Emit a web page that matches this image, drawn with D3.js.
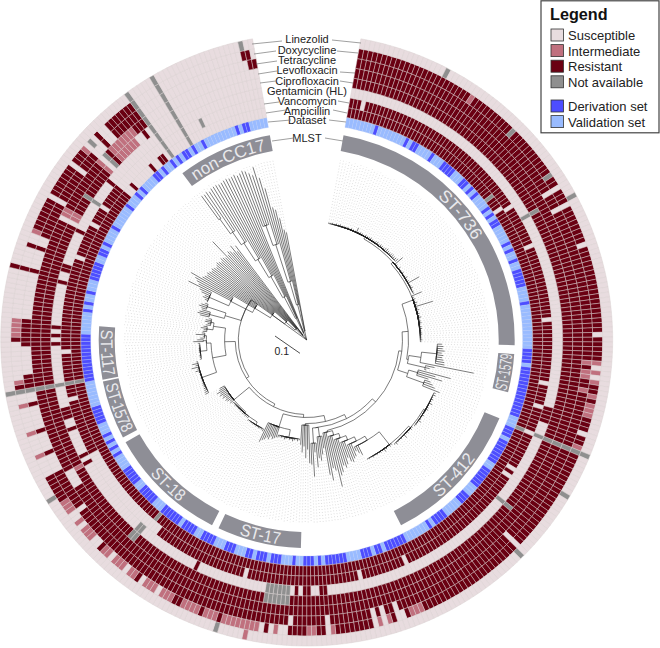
<!DOCTYPE html>
<html>
  <head>
    <meta charset="utf-8">
    <title>Enterococcus faecium phylogeny and resistance</title>
    <script src="https://d3js.org/d3.v7.min.js"></script>
    <style>
      body { margin: 0; background: #fff; }
      text { font-family: "Liberation Sans", Arial, sans-serif; }
    </style>
  </head>

  <body>
    <svg id="chart" width="660" height="648"></svg>

    <script>
      // ---- data. tips are numbered clockwise from the top gap ----
      const tipCount = 360;
      const ringNames = ["Dataset", "Ampicillin", "Vancomycin", "Gentamicin (HL)", "Ciprofloxacin",
        "Levofloxacin", "Tetracycline", "Doxycycline", "Linezolid"];

      // [first tip, last tip, state]; later runs overwrite earlier ones
      const ampicillinRuns = [[0,316,"R"],[44,44,"N"],[48,48,"S"],[108,108,"N"],[222,222,"N"],[264,264,"N"],
        [317,318,"S"],[319,319,"R"],[320,325,"S"],[326,326,"R"],[327,328,"S"],[329,330,"R"],[331,359,"S"],
        [332,332,"N"],[338,338,"N"]];
      const vancomycinRuns = [[0,316,"R"],[3,3,"S"],[49,49,"S"],[60,60,"S"],[79,79,"S"],[95,95,"S"],[101,101,"S"],
        [108,108,"S"],[118,118,"S"],[120,120,"S"],[154,154,"S"],[166,166,"S"],[195,195,"S"],[220,245,"S"],
        [260,260,"S"],[264,264,"N"],[272,272,"S"],[296,296,"S"],[305,305,"S"],[310,310,"S"],[317,359,"S"],
        [332,332,"N"],[338,338,"N"],[343,343,"N"]];
      const gentamicinRuns = [[0,359,"S"],[53,53,"N"],[101,104,"R"],[108,108,"N"],[126,126,"N"],[175,176,"R"],
        [179,180,"R"],[182,182,"R"],[184,189,"N"],[207,207,"R"],[223,224,"N"],[244,244,"R"],[246,246,"R"],
        [253,253,"R"],[256,258,"R"],[264,264,"N"],[274,274,"R"],[276,276,"R"],[278,278,"R"],[289,289,"R"],
        [292,293,"R"],[302,302,"R"],[310,310,"N"],[316,316,"R"],[332,332,"N"],[338,338,"N"]];
      const ciprofloxacinRuns = [[0,317,"R"],[53,53,"N"],[108,108,"N"],[126,126,"N"],[184,189,"N"],[223,224,"N"],
        [244,244,"I"],[264,264,"N"],[303,303,"S"],[304,305,"I"],[310,310,"N"],[318,318,"I"],[319,319,"S"],
        [320,320,"N"],[321,321,"R"],[322,327,"I"],[328,329,"S"],[330,330,"R"],[331,359,"S"],[332,332,"N"],[338,338,"N"]];
      const levofloxacinRuns = [[0,317,"R"],[108,108,"N"],[241,244,"S"],[264,264,"N"],[303,303,"S"],[304,305,"I"],
        [318,318,"I"],[319,319,"S"],[320,320,"N"],[321,321,"R"],[322,328,"I"],[329,331,"R"],[332,359,"S"],
        [332,332,"N"],[338,338,"N"]];
      const tetracyclineRuns = [[0,50,"R"],[51,51,"S"],[52,54,"R"],[55,55,"S"],[56,107,"R"],[89,89,"I"],[91,92,"I"],
        [95,95,"I"],[108,108,"N"],[109,130,"R"],[131,131,"S"],[132,159,"R"],[160,160,"S"],[161,162,"R"],[163,163,"S"],
        [164,164,"R"],[165,165,"S"],[166,174,"R"],[175,175,"S"],[176,182,"R"],[183,183,"S"],[184,235,"R"],[236,236,"S"],
        [237,245,"R"],[246,263,"S"],[250,250,"R"],[255,255,"R"],[261,261,"R"],[264,264,"N"],[265,267,"R"],[268,273,"S"],
        [274,279,"R"],[280,289,"S"],[290,290,"R"],[291,294,"S"],[295,295,"R"],[296,297,"S"],[298,305,"R"],[306,306,"S"],
        [307,313,"R"],[314,314,"S"],[315,318,"R"],[319,321,"S"],[322,322,"R"],[323,324,"S"],[325,331,"R"],[332,357,"S"],
        [332,332,"N"],[338,338,"N"],[358,359,"R"]];
      const doxycyclineRuns = [[0,24,"R"],[25,25,"I"],[26,35,"R"],[36,36,"N"],[37,47,"R"],[48,48,"N"],[49,50,"R"],
        [51,51,"S"],[52,54,"R"],[55,55,"S"],[56,63,"R"],[64,64,"S"],[65,82,"R"],[83,83,"S"],[84,88,"R"],[89,89,"I"],
        [90,90,"S"],[91,91,"I"],[92,92,"S"],[93,93,"I"],[94,95,"R"],[96,96,"I"],[97,97,"R"],[98,100,"I"],[101,103,"R"],
        [104,104,"S"],[105,106,"R"],[107,107,"I"],[108,108,"N"],[109,130,"R"],[131,131,"S"],[132,154,"R"],[155,157,"I"],
        [158,158,"R"],[159,160,"S"],[161,161,"R"],[162,162,"I"],[163,163,"S"],[164,164,"I"],[165,165,"S"],[166,173,"R"],
        [174,174,"I"],[175,175,"S"],[176,177,"R"],[178,179,"I"],[180,183,"R"],[184,185,"S"],[186,186,"I"],[187,187,"S"],
        [188,188,"R"],[189,189,"S"],[190,197,"I"],[198,198,"R"],[199,201,"I"],[202,202,"R"],[203,203,"I"],[204,206,"I"],
        [207,208,"R"],[209,211,"I"],[212,212,"S"],[213,215,"I"],[216,216,"S"],[217,217,"R"],[218,219,"I"],[220,220,"S"],
        [221,223,"I"],[224,224,"S"],[225,226,"I"],[227,227,"R"],[228,229,"S"],[230,232,"I"],[233,233,"S"],[234,234,"I"],
        [235,236,"S"],[237,239,"I"],[240,245,"R"],[246,249,"S"],[250,250,"I"],[251,254,"S"],[255,255,"I"],[256,260,"S"],
        [261,261,"I"],[262,263,"S"],[264,264,"N"],[265,265,"R"],[266,266,"I"],[267,274,"S"],[275,275,"R"],[276,279,"I"],
        [280,289,"S"],[290,290,"R"],[291,294,"S"],[295,295,"R"],[296,297,"S"],[298,298,"I"],[299,305,"R"],[306,306,"S"],
        [307,313,"R"],[314,314,"S"],[315,317,"R"],[318,318,"I"],[319,319,"S"],[320,320,"N"],[321,321,"S"],[322,322,"R"],
        [323,324,"S"],[325,331,"R"],[332,356,"S"],[332,332,"N"],[338,338,"N"],[357,358,"R"],[359,359,"S"]];
      const linezolidRuns = [[0,359,"S"],[18,18,"N"],[54,54,"N"],[108,108,"N"],[117,117,"N"],[132,132,"N"],
        [192,192,"I"],[198,198,"N"],[241,241,"N"],[264,264,"N"],[290,290,"R"],[332,332,"N"],[338,338,"N"],[357,357,"N"]];

      // dataset ring: runs of derivation-set tips, everything else is validation set
      const derivationRuns = [[8,8],[17,17],[19,20],[25,25],[29,32],[36,37],[39,39],[41,41],[46,46],[48,48],[50,51],
        [57,57],[59,59],[62,62],[65,69],[74,74],[87,90],[92,105],[109,111],[113,119],[122,127],[131,133],[139,142],
        [144,144],[152,157],[159,160],[162,164],[169,174],[176,176],[178,180],[183,183],[187,189],[191,193],[195,196],
        [200,202],[206,209],[212,215],[217,222],[226,230],[233,237],[242,242],[244,244],[246,246],[248,248],[252,256],
        [264,276],[283,283],[285,285],[288,288],[292,296],[299,300],[302,302],[307,307],[314,314],[318,318],[320,320],
        [325,326],[328,328],[331,331],[333,333],[335,336],[338,338],[341,341],[351,351],[353,354]];

      // MLST blocks, in tip units along the ring
      const mlstNames = ["ST-736", "ST-1579", "ST-412", "ST-17", "ST-18", "ST-1578", "ST-117", "non-CC17"];
      const mlstStart = [0, 88.7, 108, 181.7, 208.7, 245.8, 263.7, 331.9];
      const mlstEnd = [86.1, 100, 151.4, 206.6, 244.2, 263.2, 279.4, 360];
      const mlstClockwise = [true, false, false, false, false, false, false, true];
      const mlstTextLength = [57, 37.6, 54, 42, 41, 52, 47, 77];

      const stateNames = ["Susceptible", "Intermediate", "Resistant", "Not available"];
      const stateCodes = ["S", "I", "R", "N"];
      const setNames = ["Derivation set", "Validation set"];

      // tree: [divergence of node, ...children], a bare number is a tip. unit is 0.01 subs/site
      const st736A = [39.3,39.2,39.4,39.1,39.5,39.3,39.6,39.2,39.4,39.3,39.5,39.2,39.6,39.4,39.3,40.6,39.4,39.6,39.5,39.3,
        39.7,39.5,39.6,39.8,39.5,39.4,39.7,39.9,39.6,39.8,39.7,39.6,39.9,40.2,39.8,39.7,39.9,40,39.8,39.9,40.1];
      const st736B = [41.6,38.7,38.4,39,38.3,38.6,38.9,38.4,38.6,39.1,38.5,38.8,42.4,38.4,38.7,39,38.3,38.6,38.5];
      const st736C = [41,37.9,38.2,37.8,38.4,38,43.4,37.9,38.3,37.7,38.1,37.9,38.4,37.8,38,38.2,37.7,38,38.1,37.7,
        37.9,38,37.7,37.8,38,37.7];
      const st412A = [45.9,46.2,45.6,46,45.7,46.4,45.5,45.8,46.1,45.6,45.5,45.9,45.5,45.7,46.3,45.5,45.6,45.4];
      const st412B = [45.1,45.4,45,45.3,45,46,44.9,45.1,44.9,45,45.5,44.9];
      const st412C = [44.4,44.6,44.2,44.5,45,44.2,44.4,44.1,44.3,44,44.4,44,44.2,44];
      const st17Band = [33,33.4,32.9,33.2,33.6,33,33.3,32.8,33.1,33.5,32.9,33.2,33,33.4];
      const st17Comb = [33.5,34,34.5,33.8,35,34.6,35.5,36,36.9];
      const st18A = [33.3,33,32.9,33.1,32.8,33,32.7,32.9,32.7,32.8,32.6,32.8];
      const st18B = [32.2,32.1,32.3,32,32.2,31.9,32.1,31.9,32,31.8,31.9,32.1,31.8,32];
      const st18C = [32.6,32.2,32.9,33.3,32.7,33.6,33.1,34,33.4,34.4,33.2,32.8];
      const st1578Tips = [37.8,37.7,37.5,37.4,37.2,37.3,37.1,37,36.9,37,36.8,36.9,37,38,37.2,39,37.5,38.5,37];
      const st117Tips = [35.6,35.5,35.7,35.4,35.6,35.5,35.6,35.4,35.5,35.7];

      const cladeST736 = [36, [37.4, [38.2, [39, ...st736A], ...st736B], ...st736C]];
      const clade1579A = [34, [38, [43, 44.5,45,44.8,45.5,44.6,45.2,44.9,45.4,45.8,46], 56], [40, 43,41.5,40.5]];
      const clade1579B = [35, [38, 49,44,46.5,42], [41, 43,44,45,47]];
      const cladeST412 = [41, [43.9, [44.7, [45.3, ...st412A], ...st412B], ...st412C]];
      // ladder of small clades with ST-412 at its top end
      const ladder412 = [31, [32.5, [34, [35.5, [37, [38.5, cladeST412, 42,41,40], 41.5,42,43], 42.5,41,43],
        44,43,45], 46,49.6,44], 43,47,45];
      const combs170 = [29, [32, 36,38,40,39], [34, 42,37,45,41]];
      const combs178 = [28, 40.5,36,38.8,35,37,34.5];
      const cladeST17 = [27, [30, [32.6, ...st17Band], ...st17Comb]];
      const cladeST18 = [27.5, [29.5, [31, [31.5, [32.5, ...st18A], ...st18B], ...st18C]]];
      const cladeST1578 = [36.6, ...st1578Tips];
      const cladeST117 = [33, [35.2, ...st117Tips], [34, 37.3,36], [33.6, 35,34,36.5,34.5]];
      const clade280 = [31, [33, 34.3,34,35,34.2], [32, 33.5,33,34,33.8,32.8]];
      const clade289 = [28, [33, 36,37,36.5,35.8], [34.5, 36.2,37.2,36.6,35.5]];
      const fanLower = [2, [5, [9, [14, [20, [28, [35, 35,36,37,36.5,38,39,43.4], 40,41,42,44],
        40,39.5,39,39.5,39,38.5], 39,38.5,38,38.5,39], 38.5,38,39,38.5,38], 44.7,38,39,38.5], 37.5,39.8,37,38.8];
      const fanUpperA = [2.5, [8, [16, [24, [31, [38, [43, [49, 58.6,58.4], 58.8,58.3], 58.9,59], 59,58.7], 58.8,59.1],
        59.2,58.9], 59,59.3], 58.6,59];
      const fanUpperB = [3, [12, [20, [33, [40, 59.5,59,58,57], 59.5,55.5], 51.7,45], 44,41], 37,36];

      const treeData = [0,
        [22.5,
          [23.5,
            [24.5,
              [25.5,
                [27.5,
                  [29,
                    [30.5,
                      [31.5, [33.5, cladeST736, clade1579A], clade1579B],
                      ladder412],
                    combs170],
                  combs178],
                cladeST17],
              cladeST18],
            [27, [31.5, cladeST1578, cladeST117], clade280]],
          clade289],
        fanLower, fanUpperA, fanUpperB];
      const mainStemTip = 313;
      const scaleBarValue = 10;

      // label and leader lines around the gap at the top
      const gapLabels = ["Linezolid", "Doxycycline", "Tetracycline", "Levofloxacin", "Ciprofloxacin",
        "Gentamicin (HL)", "Vancomycin", "Ampicillin", "Dataset", "MLST"];
      const gapLabelY = [43, 54, 64, 74, 85, 95, 105, 115, 124, 142];
      const leftLeaders = [[252,44,282,41],[254,54,276,51],[256,64,277,61],[258,74,277,71],[260,83,276,81],null,
        [264,104,279,102],[266,113,286,110],[268,122,291,120],[272,141,294,138]];
      const rightLeaders = [[332,40,361,43],[337,51,358,53],null,[340,72,355,73],[340,81,353,83],null,
        [338,101,349,103],[333,110,347,113],[329,120,346,122],[325,138,343,141]];

      // ---- colours ----
      const stateColor = d3.scaleOrdinal(stateCodes, ["#e8dcdf", "#c0707e", "#6a0012", "#8f8f8f"]);
      const setColor = d3.scaleOrdinal(setNames, ["#4d4dff", "#99bbff"]);
      const mlstGrey = "#8e8e96";

      // ---- scales ----
      const gapAngle = 10.2 * Math.PI / 180;
      const angle = d3.scaleBand(d3.range(tipCount), [gapAngle, 2 * Math.PI - gapAngle]);
      const tipUnit = d3.scaleLinear([0, tipCount], [gapAngle, 2 * Math.PI - gapAngle]);
      const ring = d3.scaleBand(ringNames, [216, 306]);
      const divergence = d3.scaleLinear([0, 10], [0, 30.4]);

      const chart = d3.select("#chart");
      const plot = chart.append("g").attr("transform", "translate(306.7,340)");

      // ---- heat map rings ----
      function expand(runs) {
        const states = new Array(tipCount).fill("S");
        runs.forEach(([a, b, s]) => { for (let i = a; i <= b; i++) states[i] = s; });
        return states;
      }
      const derivationStates = new Array(tipCount).fill(setNames[1]);
      derivationRuns.forEach(([a, b]) => { for (let i = a; i <= b; i++) derivationStates[i] = setNames[0]; });

      const cellArc = d3.arc();
      function cellPath(name, i) {
        return cellArc({ innerRadius: ring(name), outerRadius: ring(name) + ring.bandwidth(),
          startAngle: angle(i), endAngle: angle(i) + angle.bandwidth() });
      }

      const ringRuns = [ampicillinRuns, vancomycinRuns, gentamicinRuns, ciprofloxacinRuns, levofloxacinRuns,
        tetracyclineRuns, doxycyclineRuns, linezolidRuns];

      plot.append("g").selectAll("path")
        .data(derivationStates)
        .join("path")
          .attr("d", (d, i) => cellPath("Dataset", i))
          .attr("fill", d => setColor(d))
          .attr("stroke", "#b9c9f5")
          .attr("stroke-width", 0.3);

      ringRuns.forEach((runs, k) => {
        plot.append("g").selectAll("path")
          .data(expand(runs))
          .join("path")
            .attr("d", (d, i) => cellPath(ringNames[k + 1], i))
            .attr("fill", d => stateColor(d))
            .attr("stroke", "#d8cfd0")
            .attr("stroke-width", 0.45);
      });

      // ---- MLST blocks ----
      const blockArc = d3.arc().innerRadius(192).outerRadius(208);
      const mlst = plot.append("g").selectAll("g").data(mlstNames).join("g");
      mlst.append("path")
        .attr("d", (d, i) => blockArc({ startAngle: tipUnit(mlstStart[i]), endAngle: tipUnit(mlstEnd[i]) }))
        .attr("fill", mlstGrey);
      mlst.append("path")
        .attr("id", (d, i) => "mlstPath" + i)
        .attr("fill", "none")
        .attr("d", (d, i) => {
          const a0 = tipUnit(mlstStart[i]), a1 = tipUnit(mlstEnd[i]);
          const r = mlstClockwise[i] ? 194 : 206;
          const p0 = d3.pointRadial(mlstClockwise[i] ? a0 : a1, r);
          const p1 = d3.pointRadial(mlstClockwise[i] ? a1 : a0, r);
          return `M${p0}A${r},${r} 0 0 ${mlstClockwise[i] ? 1 : 0} ${p1}`;
        });
      mlst.append("text")
        .attr("fill", "#e9e9ec")
        .attr("font-size", 17)
        .append("textPath")
          .attr("href", (d, i) => "#mlstPath" + i)
          .attr("startOffset", "50%")
          .attr("text-anchor", "middle")
          .attr("textLength", (d, i) => mlstTextLength[i])
          .attr("lengthAdjust", "spacingAndGlyphs")
          .text(d => d);

      // ---- tree ----
      const root = d3.hierarchy(treeData, d => Array.isArray(d) ? d.slice(1) : null);
      const leaves = root.leaves();
      const tipAngle = i => tipUnit(i + 0.5);
      leaves.forEach((d, i) => { d.a = tipAngle(i); });
      root.eachAfter(d => {
        d.r = divergence(Array.isArray(d.data) ? d.data[0] : d.data);
        if (d.children) d.a = (d.children[0].a + d.children[d.children.length - 1].a) / 2;
      });
      root.children[0].a = tipAngle(mainStemTip);

      // dotted guides from each tip out to the MLST ring
      plot.append("g").selectAll("line")
        .data(leaves)
        .join("line")
          .attr("x1", d => d3.pointRadial(d.a, d.r)[0])
          .attr("y1", d => d3.pointRadial(d.a, d.r)[1])
          .attr("x2", d => d3.pointRadial(d.a, 183)[0])
          .attr("y2", d => d3.pointRadial(d.a, 183)[1])
          .attr("stroke", "#bdbdbd")
          .attr("stroke-width", 0.5)
          .attr("stroke-dasharray", "1 2");

      function branch(d) {
        const p = d.parent;
        const from = d3.pointRadial(p.a, p.r);
        const corner = d3.pointRadial(d.a, p.r);
        const end = d3.pointRadial(d.a, d.r);
        const large = Math.abs(d.a - p.a) > Math.PI ? 1 : 0;
        const sweep = d.a > p.a ? 1 : 0;
        return `M${from}A${p.r},${p.r} 0 ${large} ${sweep} ${corner}L${end}`;
      }
      plot.append("g").selectAll("path")
        .data(root.descendants().slice(1))
        .join("path")
          .attr("d", branch)
          .attr("fill", "none")
          .attr("stroke", "#222")
          .attr("stroke-width", 0.6);

      // ---- scale bar ----
      const barLength = divergence(scaleBarValue);
      const barX = -31.7, barY = -4, barAngle = Math.atan2(17.3, 25);
      plot.append("line")
        .attr("x1", barX).attr("y1", barY)
        .attr("x2", barX + barLength * Math.cos(barAngle))
        .attr("y2", barY + barLength * Math.sin(barAngle))
        .attr("stroke", "#222").attr("stroke-width", 0.8);
      plot.append("text")
        .attr("x", -25).attr("y", 15)
        .attr("text-anchor", "middle")
        .attr("font-size", 10.5)
        .attr("fill", "#222")
        .text("0.1");

      // ---- gap labels ----
      chart.append("g").selectAll("text")
        .data(gapLabels)
        .join("text")
          .attr("x", 307)
          .attr("y", (d, i) => gapLabelY[i])
          .attr("text-anchor", "middle")
          .attr("font-size", 11)
          .attr("fill", "#222")
          .text(d => d);
      chart.append("g").selectAll("line")
        .data(leftLeaders.concat(rightLeaders).filter(d => d))
        .join("line")
          .attr("x1", d => d[0]).attr("y1", d => d[1])
          .attr("x2", d => d[2]).attr("y2", d => d[3])
          .attr("stroke", "#777")
          .attr("stroke-width", 0.7);

      // ---- legend ----
      const legend = chart.append("g");
      legend.append("rect")
        .attr("x", 541).attr("y", 0.8)
        .attr("width", 118).attr("height", 132)
        .attr("fill", "#fff").attr("stroke", "#444").attr("stroke-width", 1.2);
      legend.append("text")
        .attr("x", 550).attr("y", 20)
        .attr("font-size", 16.2).attr("font-weight", "bold").attr("fill", "#111")
        .text("Legend");
      const legendRows = stateNames.map((name, i) => ({ name, color: stateColor(stateCodes[i]), y: 29 + i * 15.6 }))
        .concat(setNames.map((name, i) => ({ name, color: setColor(name), y: 100 + i * 15.6 })));
      const rows = legend.selectAll(".row").data(legendRows).join("g").attr("class", "row");
      rows.append("rect")
        .attr("x", 551).attr("y", d => d.y)
        .attr("width", 12.5).attr("height", 12)
        .attr("fill", d => d.color)
        .attr("stroke", "#333").attr("stroke-width", 0.8);
      rows.append("text")
        .attr("x", 568).attr("y", d => d.y + 11)
        .attr("font-size", 13).attr("fill", "#222")
        .text(d => d.name);
    </script>
  </body>
</html>
